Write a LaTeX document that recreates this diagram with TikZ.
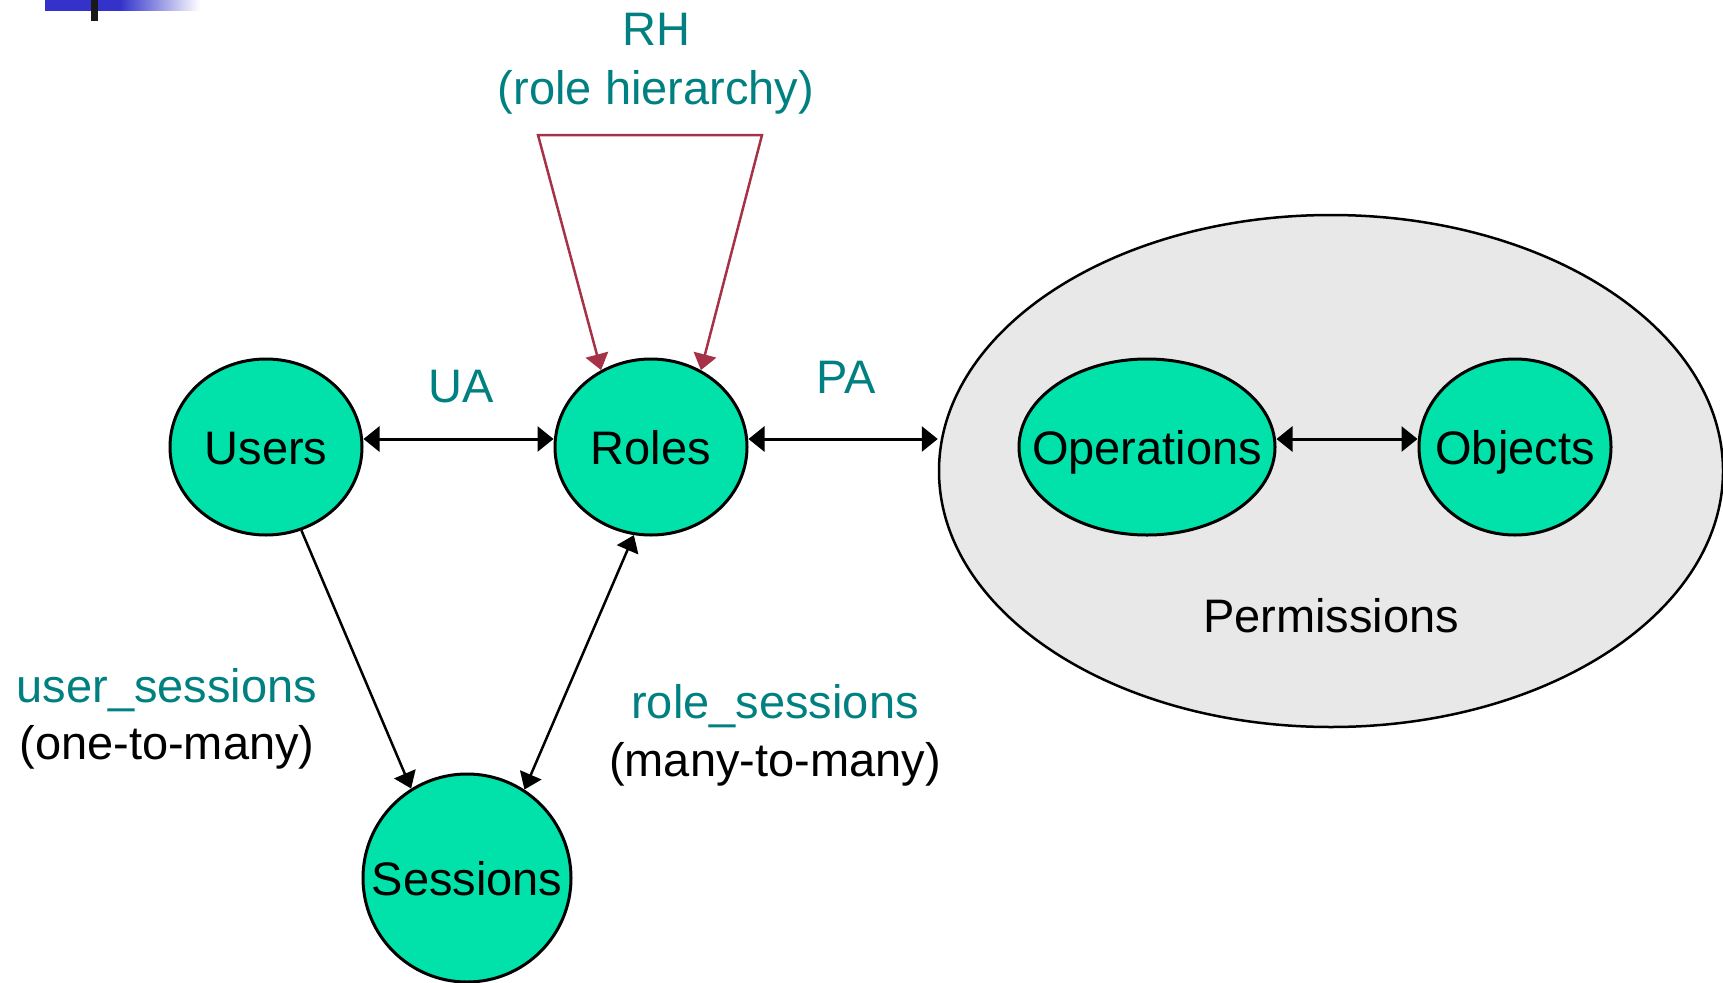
\documentclass[tikz,border=0pt]{standalone}
\usepackage{fontspec}
\setmainfont{Liberation Sans}
\usetikzlibrary{shapes.geometric,arrows.meta}
\definecolor{entityfill}{RGB}{0,226,170}
\definecolor{permfill}{RGB}{232,232,232}
\definecolor{assoccol}{RGB}{0,128,128}
\definecolor{rhcol}{RGB}{165,50,70}
\definecolor{barblue}{RGB}{51,51,204}
\tikzset{
  tipa/.tip={Triangle[length=16pt,width=25pt]},
  tipb/.tip={Triangle[length=16pt,width=23pt]},
  entity/.style={ellipse,draw,line width=3pt,fill=entityfill,inner ysep=0pt,inner xsep=-50pt,
    minimum width=192pt,minimum height=176pt,text height=34pt,text depth=0pt},
  assoc/.style={text=assoccol,anchor=base,inner sep=0pt},
  note/.style={text=black,anchor=base,inner sep=0pt},
  link/.style={line width=3pt,tipa-tipa},
  slink/.style={line width=2.5pt}
}
\begin{document}
\begin{tikzpicture}[x=1pt,y=-1pt,font=\fontsize{47}{56}\selectfont]
  \useasboundingbox (0,0) rectangle (1723,982);
  % slide corner
  \fill[barblue] (45,0) rectangle (121,11);
  \shade[left color=barblue,right color=white] (120,0) rectangle (200,11);
  \fill[black!90] (91,0) rectangle (98,21);
  % permissions
  \draw
    (1331,471) node[ellipse,draw,line width=2.5pt,fill=permfill,minimum width=784pt,minimum height=512pt,inner sep=0pt] (perms){}
    (1331,632) node[note] (permtext){Permissions};
  \draw
    (266,447) node[entity] (users){Users}
    (651,447) node[entity] (roles){Roles}
    (467,878) node[entity,minimum width=208pt,minimum height=208pt] (sessions){Sessions}
    (1147,447) node[entity,minimum width=256pt] (ops){Operations}
    (1515,447) node[entity] (objs){Objects};
  \node[assoc] (rh) at (656,46) {RH};
  \node[assoc] (rhnote) at (656,104) {(role hierarchy)};
  \node[assoc] (ua) at (461,402) {UA};
  \node[assoc] (pa) at (846,393) {PA};
  \node[assoc] (us) at (167,702) {user\_sessions};
  \node[note] (usnote) at (167,759) {(one-to-many)};
  \node[assoc] (rs) at (775,718) {role\_sessions};
  \node[note] (rsnote) at (775,776) {(many-to-many)};
  \coordinate (rhl) at (538,135);
  \coordinate (rhr) at (762,135);
  \begin{scope}[link]
    \draw ([yshift=8pt]users.east) to ([yshift=8pt]roles.west);
    \draw ([yshift=8pt]roles.east) to ([yshift=32pt]perms.west);
    \draw ([yshift=8pt]ops.east) to ([yshift=8pt]objs.west);
  \end{scope}
  \begin{scope}[slink]
    \draw[-tipb] (users.-67.5) to (sessions.122.5);
    \draw[tipb-tipb] (roles.259.6) to (sessions.57.1);
  \end{scope}
  \draw[rhcol,line width=2.5pt,tipb-tipb] (roles.123) -- (rhl) -- (rhr) -- (roles.57);
\end{tikzpicture}
\end{document}
